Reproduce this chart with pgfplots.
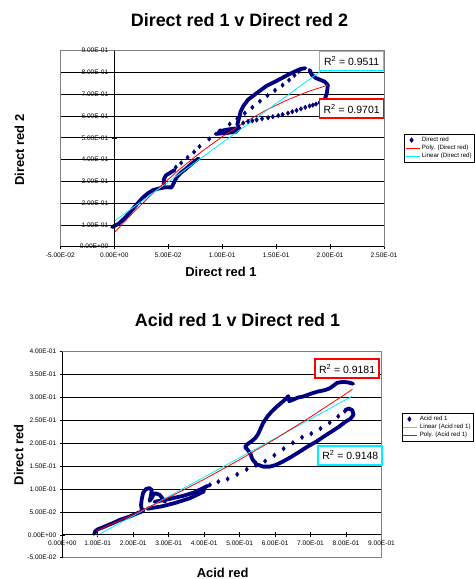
\documentclass[border=0pt]{standalone}
\usepackage{pgfplots}
\pgfplotsset{compat=1.18}
\usepackage{fontspec}
\setmainfont{Liberation Sans}
\definecolor{navy}{RGB}{0,0,128}
\definecolor{aqua}{RGB}{0,240,255}
\definecolor{framegray}{RGB}{128,128,128}
\pgfplotsset{
  excel/.style={
    scale only axis,
    axis line style={framegray, line width=1bp},
    xtick pos=bottom, ytick pos=left,
    tick align=center,
    major tick length=5bp,
    tick style={black, line width=0.6bp},
    hide obscured x ticks=false, hide obscured y ticks=false,
    ymajorgrids,
    grid style={black, line width=0.8bp},
    ticklabel style={font=\fontsize{6.6}{7}\selectfont},
    clip=false,
    legend style={draw=black, line width=0.6bp, font=\fontsize{6.2}{7}\selectfont,
      inner sep=0.8bp, anchor=north west, row sep=-1.8bp},
    legend cell align=left,
  },
  trend/.style={line width=0.8bp, no marks,
    legend image code/.code={\draw[##1] (0bp,0bp) -- (14bp,0bp);}},
  dense/.style={navy, line width=3.8bp, line join=round, line cap=round, forget plot},
  dots/.style={only marks, mark=diamond*, mark size=2.3bp, mark options={fill=navy, draw=navy}, color=navy,
    legend image code/.code={\draw[##1] plot coordinates {(6bp,0bp)};}},
}
\tikzset{
  rbox/.style={fill=white, line width=1.6bp, inner sep=0pt, minimum width=64bp, minimum height=19bp,
    font=\fontsize{10.5}{12}\selectfont},
}
\begin{document}
\begin{tikzpicture}
\path[use as bounding box] (0,0) rectangle (475bp,579bp);
% ---------------- top chart ----------------
\node[anchor=base, font=\fontsize{18}{20}\selectfont\bfseries] at (239.5bp,552bp) {Direct red 1 v Direct red 2};
\node[anchor=base, font=\fontsize{13}{15}\selectfont\bfseries] at (221bp,302bp) {Direct red 1};
\node[anchor=base, rotate=90, font=\fontsize{13}{15}\selectfont\bfseries] at (24bp,429bp) {Direct red 2};
\begin{axis}[excel,
  at={(60.3bp,332.3bp)}, anchor=south west, width=323.7bp, height=196bp,
  xmin=-0.05, xmax=0.25, ymin=0, ymax=0.9,
  xtick={-0.05,0,0.05,0.1,0.15,0.2,0.25},
  xticklabels={-5.00E-02,0.00E+00,5.00E-02,1.00E-01,1.50E-01,2.00E-01,2.50E-01},
  ytick={0,0.1,0.2,0.3,0.4,0.5,0.6,0.7,0.8,0.9},
  yticklabels={0.00E+00,1.00E-01,2.00E-01,3.00E-01,4.00E-01,5.00E-01,6.00E-01,7.00E-01,8.00E-01,9.00E-01},
  yticklabel style={xshift=53.95bp},
  ytick style={xshift=53.95bp},
  legend style={at={(1.062,0.575)}},
]
\addplot[dense] coordinates {(-0.002,0.090)(0.004,0.105)(0.010,0.133)(0.015,0.160)(0.020,0.190)(0.027,0.228)(0.032,0.248)(0.036,0.260)(0.042,0.268)(0.048,0.273)(0.053,0.272)(0.055,0.290)(0.058,0.320)(0.062,0.340)(0.067,0.360)(0.072,0.382)(0.078,0.405)};
\addplot[dense] coordinates {(0.046,0.285)(0.046,0.310)(0.048,0.328)(0.052,0.340)(0.056,0.352)};
\addplot[dense] coordinates {(0.094,0.518)(0.104,0.522)(0.113,0.528)(0.116,0.545)(0.105,0.538)(0.097,0.530)};
\addplot[dense] coordinates {(0.114,0.560)(0.116,0.596)(0.117,0.619)(0.1195,0.645)(0.124,0.675)(0.132,0.705)(0.141,0.738)(0.153,0.768)(0.162,0.792)(0.172,0.815)(0.177,0.820)};
\addplot[dense] coordinates {(0.181,0.812)(0.183,0.790)(0.187,0.774)(0.195,0.758)(0.198,0.742)(0.197,0.704)(0.195,0.675)(0.190,0.660)};
\addplot[dots] coordinates {(0.057,0.365)(0.062,0.385)(0.068,0.410)(0.074,0.435)(0.079,0.460)(0.088,0.495)(0.098,0.532)(0.107,0.563)(0.114,0.588)(0.121,0.613)(0.128,0.640)(0.135,0.668)(0.142,0.694)(0.149,0.718)(0.156,0.742)(0.162,0.765)(0.167,0.787)(0.171,0.805)
(0.115,0.555)(0.1195,0.568)(0.124,0.575)(0.128,0.578)(0.132,0.582)(0.137,0.588)(0.1426,0.592)(0.147,0.597)(0.152,0.602)(0.156,0.607)(0.161,0.613)(0.165,0.620)(0.169,0.626)(0.173,0.633)(0.177,0.640)(0.181,0.646)(0.184,0.650)(0.187,0.655)};
\addlegendentry{Direct red}
\addplot[trend, red] coordinates {(0,0.065)(0.02,0.169)(0.04,0.265)(0.06,0.353)(0.08,0.433)(0.10,0.505)(0.12,0.569)(0.14,0.625)(0.16,0.673)(0.18,0.713)(0.198,0.742)};
\addlegendentry{Poly. (Direct red)}
\addplot[trend, aqua] coordinates {(0,0.117)(0.193,0.812)};
\addlegendentry{Linear (Direct red)}
\draw[black, line width=0.8bp] (axis cs:0,0) -- (axis cs:0,0.9);
\draw[black, line width=0.8bp] (axis cs:-0.05,0) -- (axis cs:0.25,0);
\node[rbox, draw=aqua] at (axis cs:0.220,0.852) {R\textsuperscript{2} = 0.9511};
\node[rbox, draw=red] at (axis cs:0.220,0.634) {R\textsuperscript{2} = 0.9701};
\end{axis}
% ---------------- bottom chart ----------------
\node[anchor=base, font=\fontsize{18}{20}\selectfont\bfseries] at (237.5bp,252bp) {Acid red 1 v Direct red 1};
\node[anchor=base, font=\fontsize{13}{15}\selectfont\bfseries] at (222.7bp,1.5bp) {Acid red};
\node[anchor=base, rotate=90, font=\fontsize{13}{15}\selectfont\bfseries] at (23.3bp,124bp) {Direct red};
\begin{axis}[excel,
  at={(62.3bp,21.3bp)}, anchor=south west, width=319.2bp, height=206bp,
  xmin=0, xmax=0.9, ymin=-0.05, ymax=0.4,
  xtick={0,0.1,0.2,0.3,0.4,0.5,0.6,0.7,0.8,0.9},
  xticklabels={0.00E+00,1.00E-01,2.00E-01,3.00E-01,4.00E-01,5.00E-01,6.00E-01,7.00E-01,8.00E-01,9.00E-01},
  ytick={-0.05,0,0.05,0.1,0.15,0.2,0.25,0.3,0.35,0.4},
  yticklabels={-5.00E-02,0.00E+00,5.00E-02,1.00E-01,1.50E-01,2.00E-01,2.50E-01,3.00E-01,3.50E-01,4.00E-01},
  xticklabel style={yshift=22.89bp},
  xtick style={yshift=22.89bp},
  legend style={at={(1.064,0.7024)}},
]
\addplot[dense] coordinates {(0.090,0.002)(0.093,0.008)(0.100,0.012)(0.110,0.015)(0.125,0.020)(0.144,0.026)(0.160,0.032)(0.175,0.036)(0.190,0.040)(0.205,0.045)(0.224,0.051)(0.230,0.055)};
\addplot[dense] coordinates {(0.224,0.055)(0.222,0.065)(0.224,0.078)(0.228,0.092)(0.236,0.100)(0.246,0.102)(0.252,0.098)(0.250,0.085)(0.246,0.074)(0.252,0.080)(0.258,0.090)(0.266,0.090)(0.275,0.087)(0.284,0.078)(0.290,0.072)};
\addplot[dense] coordinates {(0.26,0.072)(0.30,0.078)(0.34,0.085)(0.37,0.092)(0.40,0.103)(0.41,0.107)};
\addplot[dense] coordinates {(0.24,0.057)(0.28,0.062)(0.32,0.070)(0.36,0.080)(0.40,0.095)};
\addplot[dense] coordinates {(0.797,0.272)(0.808,0.276)(0.818,0.272)(0.821,0.262)(0.812,0.253)(0.800,0.248)(0.780,0.236)(0.760,0.226)(0.740,0.216)(0.717,0.204)(0.690,0.192)(0.670,0.182)(0.645,0.170)(0.622,0.160)(0.600,0.152)(0.585,0.149)(0.566,0.149)(0.548,0.154)(0.536,0.165)(0.530,0.178)(0.522,0.186)(0.515,0.192)(0.522,0.198)(0.535,0.205)(0.545,0.212)(0.552,0.220)(0.558,0.230)(0.566,0.244)(0.578,0.258)(0.590,0.269)(0.605,0.280)(0.620,0.290)(0.632,0.298)(0.637,0.303)(0.640,0.292)(0.650,0.295)(0.665,0.300)(0.679,0.302)(0.700,0.308)(0.721,0.313)(0.740,0.316)(0.754,0.320)(0.765,0.326)(0.775,0.332)(0.790,0.334)(0.805,0.333)(0.820,0.330)};
\addplot[dots] coordinates {(0.416,0.109)(0.440,0.116)(0.466,0.122)(0.493,0.132)(0.520,0.143)(0.546,0.152)(0.572,0.161)(0.598,0.174)(0.624,0.188)(0.650,0.201)(0.676,0.213)(0.702,0.221)(0.728,0.232)(0.754,0.245)(0.778,0.259)(0.797,0.270)};
\addlegendentry{Acid red 1}
\addplot[trend, aqua] coordinates {(0.097,-0.002)(0.818,0.303)};
\addlegendentry{Linear (Acid red 1)}
\addplot[trend, red] coordinates {(0.097,0.009)(0.2,0.0443)(0.3,0.0814)(0.4,0.1213)(0.5,0.164)(0.6,0.2093)(0.7,0.2574)(0.8,0.3083)(0.818,0.318)};
\addlegendentry{Poly. (Acid red 1)}
\draw[black, line width=0.8bp] (axis cs:0,0) -- (axis cs:0.9,0);
\draw[black, line width=0.8bp] (axis cs:0,-0.05) -- (axis cs:0,0.4);
\node[rbox, draw=red] at (axis cs:0.803,0.363) {R\textsuperscript{2} = 0.9181};
\node[rbox, draw=aqua] at (axis cs:0.812,0.1735) {R\textsuperscript{2} = 0.9148};
\end{axis}
\end{tikzpicture}
\end{document}
